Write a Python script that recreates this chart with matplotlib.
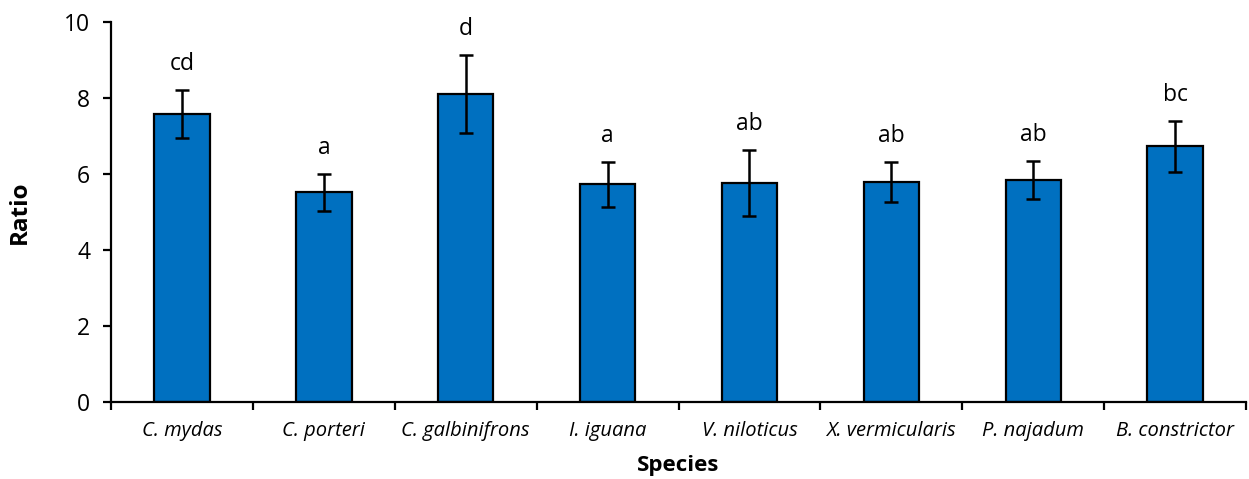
import matplotlib
matplotlib.use("Agg")
import matplotlib.pyplot as plt
import numpy as np

species = ["C. mydas", "C. porteri", "C. galbinifrons", "I. iguana",
           "V. niloticus", "X. vermicularis", "P. najadum", "B. constrictor"]
ratio = [7.58, 5.52, 8.10, 5.73, 5.75, 5.79, 5.84, 6.73]
err = [0.63, 0.49, 1.03, 0.59, 0.87, 0.53, 0.49, 0.67]
letters = ["cd", "a", "d", "a", "ab", "ab", "ab", "bc"]

plt.rcParams['font.family'] = ['Open Sans', 'DejaVu Sans']

fig = plt.figure(figsize=(12.49, 4.79), dpi=100)
ax = fig.add_axes([0.0889, 0.1614, 0.9087, 0.7926])

x = np.arange(len(species))
ax.bar(x, ratio, width=0.39, color="#0070C0", edgecolor="black", linewidth=1.6, zorder=2)
ax.errorbar(x, ratio, yerr=err, fmt="none", ecolor="black", elinewidth=1.8,
            capsize=5, capthick=1.8, zorder=3)

for xi, v, e, t in zip(x, ratio, err, letters):
    ax.annotate(t, (xi, v + e), xytext=(0, 10), textcoords="offset points",
                ha="center", va="bottom", fontsize=16.5, color="black")

ax.set_xlim(-0.5, len(species) - 0.5)
ax.set_ylim(0, 10)
ax.set_yticks([0, 2, 4, 6, 8, 10])
ax.set_xticks(x)
ax.set_xticklabels(species, fontsize=14.5, style="italic")
ax.set_xticks(np.arange(-0.5, len(species), 1.0), minor=True)
ax.tick_params(axis="x", which="major", length=0, pad=14)
ax.tick_params(axis="x", which="minor", length=6, width=1.6, direction="out")
ax.tick_params(axis="y", length=6, width=1.6, direction="out", labelsize=16.5, pad=9)

for s in ["top", "right"]:
    ax.spines[s].set_visible(False)
for s in ["left", "bottom"]:
    ax.spines[s].set_linewidth(1.6)

ax.set_xlabel("Species", fontsize=16, fontweight="bold", labelpad=10)
ax.set_ylabel("Ratio", fontsize=17.5, fontweight="bold", labelpad=23)

fig.savefig("out.png", dpi=100)
